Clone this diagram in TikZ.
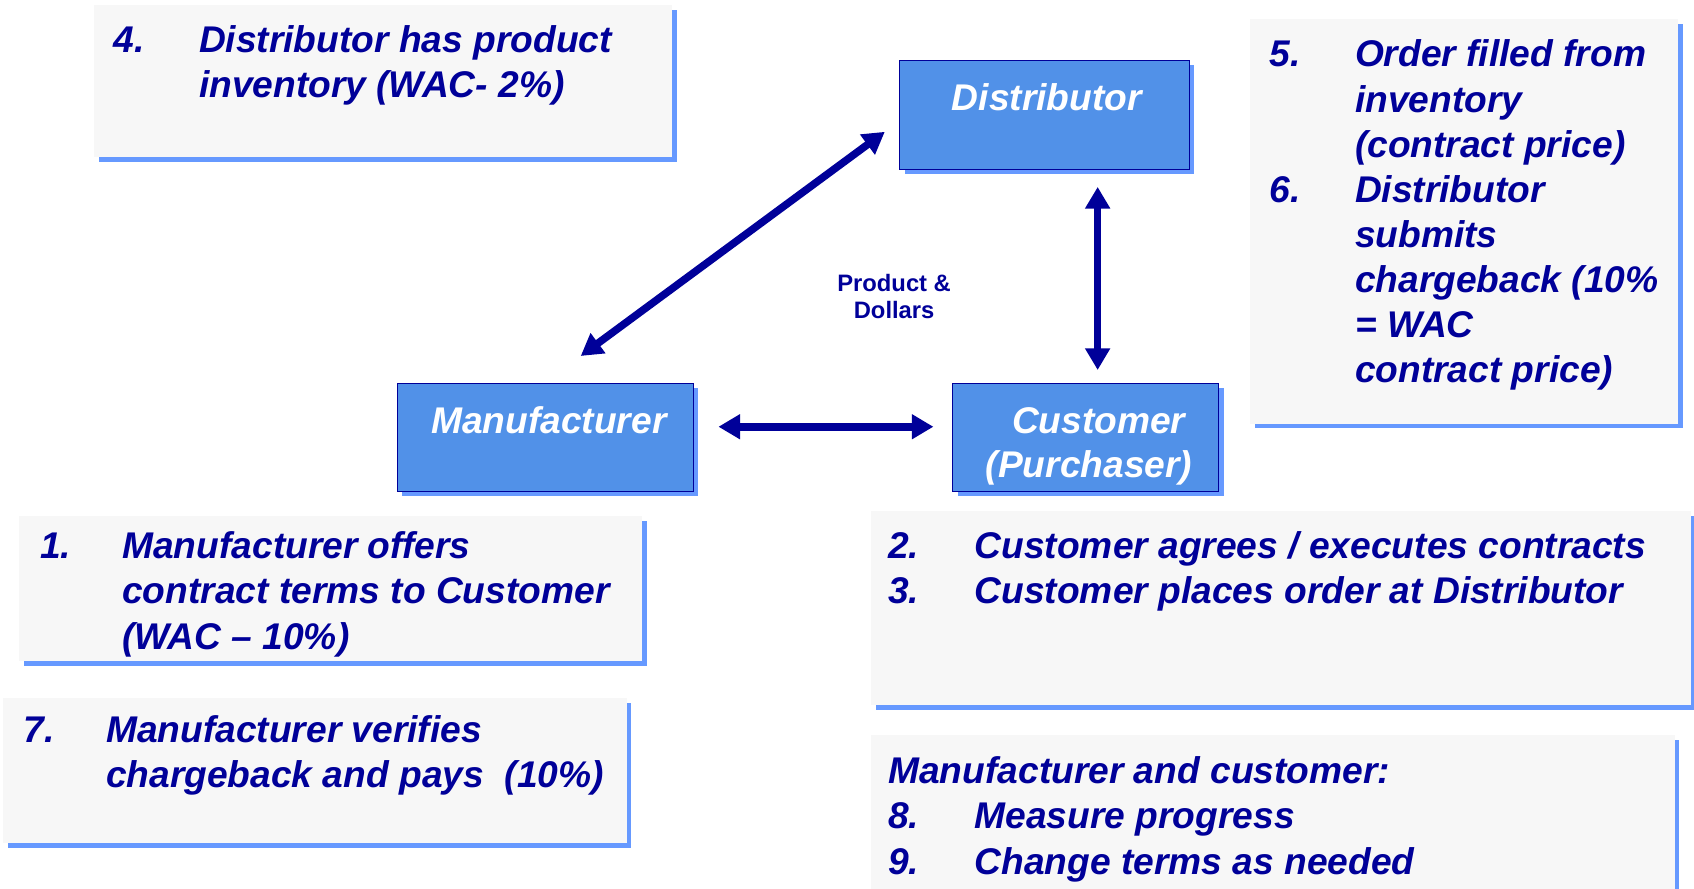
\documentclass[tikz,border=0pt]{standalone}
\usepackage{fontspec}
\setmainfont{Liberation Sans}
\usetikzlibrary{arrows.meta,shadows}
\definecolor{navy}{HTML}{000099}
\definecolor{nodefill}{HTML}{5191E8}
\definecolor{shadowblue}{HTML}{6699FF}
\definecolor{panelgray}{HTML}{F7F7F7}
\begin{document}
\begin{tikzpicture}[x=1pt,y=-1pt,
  blueshadow/.style={general shadow={fill=shadowblue,shadow xshift=4.5pt,shadow yshift=-4.5pt}},
  panel/.style={fill=panelgray,inner sep=0pt,outer sep=0pt,anchor=north west,blueshadow},
  party/.style={fill=nodefill,draw=navy,line width=1pt,inner sep=0pt,outer sep=0pt,anchor=north west,blueshadow},
  bigfont/.style={font=\fontsize{34.4}{41.7}\selectfont\bfseries\itshape},
  line/.style={bigfont,text=navy,anchor=base west,inner sep=0pt},
  partytext/.style={bigfont,text=white,anchor=base,inner sep=0pt},
  flowlabel/.style={font=\fontsize{22}{26}\selectfont\bfseries,text=navy,anchor=base,inner sep=0pt},
  flow/.style={draw=navy,line width=7pt,{Triangle[length=20pt,width=22pt]}-{Triangle[length=20pt,width=22pt]}}
]
\useasboundingbox (0,0) rectangle (1568,822);

% text panels
\node[panel,minimum width=535pt,minimum height=140pt] (p4) at (87,5) {};
\node[panel,minimum width=396pt,minimum height=374pt] (p5) at (1157,18) {};
\node[panel,minimum width=576pt,minimum height=134pt] (p1) at (18,478) {};
\node[panel,minimum width=577pt,minimum height=134pt] (p7) at (3,646) {};
\node[panel,minimum width=759pt,minimum height=180pt] (p2) at (806,473) {};
\node[panel,minimum width=744pt,minimum height=160pt] (p8) at (806,680) {};

% trading parties
\node[party,minimum width=268pt,minimum height=101pt] (dist) at (833,56) {};
\node[party,minimum width=274pt,minimum height=100pt] (man) at (368,355) {};
\node[party,minimum width=246pt,minimum height=100pt] (cust) at (882,355) {};

\node[partytext] (distT) at (969,102) {Distributor};
\node[partytext] (manT) at (508,401) {Manufacturer};
\node[partytext] (custT1) at (1017,401) {Customer};
\node[partytext] (custT2) at (1008,442) {(Purchaser)};

% flows between the parties
\coordinate (dmA) at (537.5,329.5);
\coordinate (dmB) at (819,122);
\coordinate (dcA) at (1016,173);
\coordinate (dcB) at (1016,342.5);
\coordinate (mcA) at (665,395);
\coordinate (mcB) at (864,395);
\draw[flow] (dmA) -- (dmB);
\draw[flow] (dcA) -- (dcB);
\draw[flow] (mcA) -- (mcB);

\node[flowlabel] (lab1) at (827.6,270) {Product \&};
\node[flowlabel] (lab2) at (827.6,295) {Dollars};

% step 4
\node[line] (n4) at (105,49) {4.};
\node[line] (t4a) at (184,49) {Distributor has product};
\node[line] (t4b) at (184,90) {inventory (WAC- 2\%)};

% steps 5 and 6
\node[line] (n5) at (1175,62) {5.};
\node[line] (t5a) at (1254,62) {Order filled from};
\node[line] (t5b) at (1254,103.7) {inventory};
\node[line] (t5c) at (1254,145.4) {(contract price)};
\node[line] (n6) at (1175,187.1) {6.};
\node[line] (t6a) at (1254,187.1) {Distributor};
\node[line] (t6b) at (1254,228.8) {submits};
\node[line] (t6c) at (1254,270.5) {chargeback (10\%};
\node[line] (t6d) at (1254,312.2) {= WAC};
\node[line] (t6e) at (1254,353.9) {contract price)};

% step 1
\node[line] (n1) at (37,517) {1.};
\node[line] (t1a) at (113,517) {Manufacturer offers};
\node[line] (t1b) at (113,559) {contract terms to Customer};
\node[line] (t1c) at (113,601) {(WAC – 10\%)};

% step 7
\node[line] (n7) at (22,687) {7.};
\node[line] (t7a) at (98,687) {Manufacturer verifies};
\node[line] (t7b) at (98,729) {chargeback and pays\ \ (10\%)};

% steps 2 and 3
\node[line] (n2) at (822,517) {2.};
\node[line] (t2) at (902,517) {Customer agrees / executes contracts};
\node[line] (n3) at (822,559) {3.};
\node[line] (t3) at (902,559) {Customer places order at Distributor};

% steps 8 and 9
\node[line] (h8) at (822,725) {Manufacturer and customer:};
\node[line] (n8) at (822,767) {8.};
\node[line] (t8) at (902,767) {Measure progress};
\node[line] (n9) at (822,809) {9.};
\node[line] (t9) at (902,809) {Change terms as needed};
\end{tikzpicture}
\end{document}
